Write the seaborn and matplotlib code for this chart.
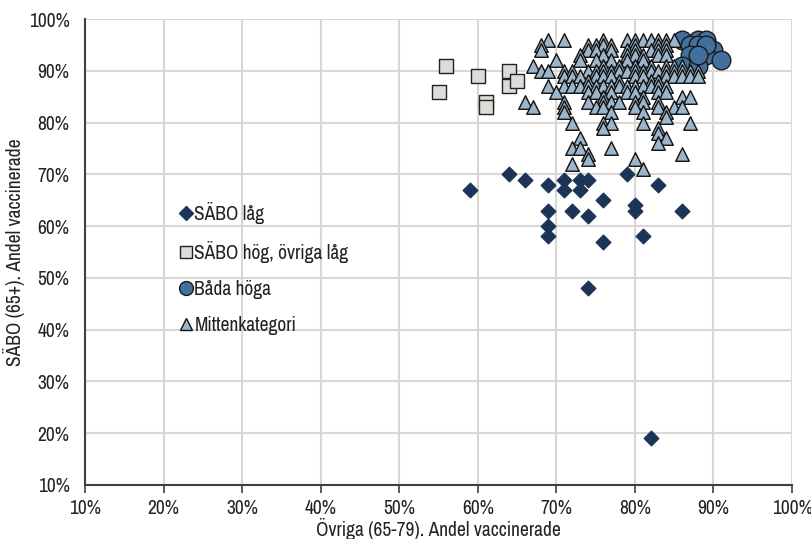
import matplotlib
matplotlib.use("Agg")
import matplotlib.pyplot as plt
from matplotlib import font_manager
import seaborn as sns
import pandas as pd
from matplotlib.lines import Line2D
from matplotlib.ticker import PercentFormatter, MultipleLocator

# ---- data (percent) ----
lag_x = [59, 64, 66, 69, 71, 71, 73, 74, 73, 69, 69, 69, 72, 74, 76, 76, 79, 80, 80, 81, 83, 86, 74, 82]
lag_y = [67, 70, 69, 68, 69, 67, 69, 69, 67, 63, 60, 58, 63, 62, 65, 57, 70, 64, 63, 58, 68, 63, 48, 19]

hog_x = [55, 56, 60, 64, 64, 65, 61, 61]
hog_y = [86, 91, 89, 90, 87, 88, 84, 83]

bada_x = [86, 88, 89, 87, 88, 89, 90, 89, 87, 91, 86, 88, 89, 88]
bada_y = [96, 96, 96, 95, 95, 94, 94, 93, 93, 92, 91, 91, 95, 93]

mitten_rows = {
    96: [69, 71, 76, 79, 80, 81, 82, 83, 84, 85],
    95: [68, 74, 75, 76, 77, 80, 83, 84],
    94: [68, 74, 75, 77, 79, 80, 82, 83, 84],
    93: [73, 76, 79, 80, 81, 83, 84],
    92: [70, 73, 75, 77, 79, 81],
    91: [67, 76, 78, 80, 82, 84, 85, 86],
    90: [68, 69, 71, 72, 74, 75, 76, 77, 78, 79, 80, 81, 82, 83, 84, 85, 86, 87, 88],
    89: [71, 72, 73, 75, 76, 77, 80, 81, 84, 85, 86, 87, 88],
    88: [74, 78, 82, 83],
    87: [69, 71, 72, 73, 74, 75, 76, 77, 78, 79, 80, 81, 82, 83, 84],
    86: [70, 74, 75, 77, 79, 80, 83, 84],
    85: [76, 81, 86, 87],
    84: [66, 71, 74, 76, 77, 78, 80, 81, 83],
    83: [67, 71, 75, 76, 80, 83, 85, 86],
    82: [71, 77, 81, 84],
    81: [84],
    80: [72, 76, 77, 81, 87],
    79: [76, 83],
    78: [83],
    77: [73, 84],
    76: [83],
    75: [72, 73, 77],
    74: [74, 86],
    73: [74, 80],
    72: [72],
    71: [81],
}
mitten_x = [x for y, xs in mitten_rows.items() for x in xs]
mitten_y = [y for y, xs in mitten_rows.items() for x in xs]

labels = ["SÄBO låg", "SÄBO hög, övriga låg", "Båda höga", "Mittenkategori"]
colors = ["#1c3457", "#dcdcd8", "#41709c", "#9db5ca"]
markers = ["D", "s", "o", "^"]
edges = ["#1c3457", "#222222", "#1a1a1a", "#111111"]
sizes = [55, 95, 180, 95]

sns.set_theme(style="white")

# pick a condensed family if one exists, else a compact sans
names = sorted({f.name for f in font_manager.fontManager.ttflist})
cond = [n for n in names if ("Narrow" in n or "Condensed" in n)]
fam = cond[0] if cond else "Liberation Sans"
plt.rcParams["font.family"] = [fam, "DejaVu Sans"]
fs = 14 if cond else 11

fig = plt.figure(figsize=(8.12, 5.39), dpi=100)
ax = fig.add_axes([0.1047, 0.1002, 0.8707, 0.8645])

groups = [(lag_x, lag_y), (hog_x, hog_y), (bada_x, bada_y), (mitten_x, mitten_y)]
for i in range(4):
    gx, gy = groups[i]
    df = pd.DataFrame({"x": gx, "y": gy})
    sns.scatterplot(data=df, x="x", y="y", ax=ax, marker=markers[i], color=colors[i],
                    edgecolor=edges[i], linewidth=1.0, s=sizes[i], legend=False, zorder=3 + i)

ax.set_xlim(10, 100)
ax.set_ylim(10, 100)
ax.xaxis.set_major_locator(MultipleLocator(10))
ax.yaxis.set_major_locator(MultipleLocator(10))
ax.xaxis.set_major_formatter(PercentFormatter(decimals=0))
ax.yaxis.set_major_formatter(PercentFormatter(decimals=0))
ax.grid(True, color="#d9d6d3", linewidth=1.5, zorder=0)
ax.set_axisbelow(True)
for s in ["top", "right"]:
    ax.spines[s].set_visible(False)
for s in ["left", "bottom"]:
    ax.spines[s].set_color("#404040")
    ax.spines[s].set_linewidth(1.5)
ax.tick_params(axis="x", which="major", bottom=True, length=6, width=1.2, color="#404040",
               labelsize=fs, labelcolor="#222222", pad=4)
ax.tick_params(axis="y", which="major", left=False, labelsize=fs, labelcolor="#222222", pad=5)
ax.set_xlabel("Övriga (65-79). Andel vaccinerade", fontsize=fs, color="#222222", labelpad=0)
ax.set_ylabel("SÄBO (65+). Andel vaccinerade", fontsize=fs, color="#222222", labelpad=3)

handles = [Line2D([0], [0], marker=markers[i], linestyle="none", markerfacecolor=colors[i],
                  markeredgecolor=edges[i], markeredgewidth=1.0,
                  markersize=[7, 9, 10, 9][i]) for i in range(4)]
ax.legend(handles, labels, loc="upper left", bbox_to_anchor=(0.105, 0.645), frameon=False,
          fontsize=fs, labelspacing=0.88, handletextpad=0.0, handlelength=0.9,
          labelcolor="#222222")

fig.savefig("out.png", dpi=100)
